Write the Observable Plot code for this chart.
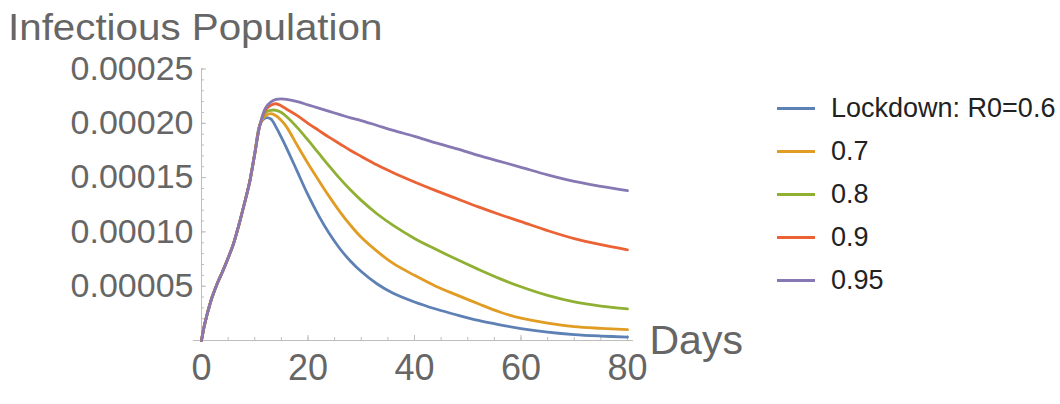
<!DOCTYPE html>
<html>
<head>
<meta charset="utf-8">
<script src="https://cdn.jsdelivr.net/npm/d3@7"></script>
<script src="https://cdn.jsdelivr.net/npm/@observablehq/plot@0.6"></script>
<style>
  body { margin: 0; background: #fff; font-family: "Liberation Sans", Arial, sans-serif; }
  #wrap { width: 1060px; height: 404px; overflow: hidden; }
  #title { height: 50px; box-sizing: border-box; padding: 7.5px 0 0 8px; font-size: 36px; line-height: 40px; color: #666; white-space: nowrap; }
  #title span { display: inline-block; transform: scaleX(1.12); transform-origin: 0 50%; }
  #row { display: flex; align-items: flex-start; }
  #legend { padding-top: 37px; }
  .item { display: flex; align-items: center; height: 43px; font-size: 27px; color: #222; white-space: nowrap; }
  .sw { width: 38px; height: 0; border-top: 3px solid; margin-left: 7px; margin-right: 16px; }
</style>
</head>
<body>
<div id="wrap">
  <div id="title"><span>Infectious Population</span></div>
  <div id="row">
    <div id="chart"></div>
    <div id="legend"></div>
  </div>
</div>
<script>
// ---- data (values in units of 1e-5) ----
const days = [0, 0.5, 1, 1.5, 2, 3, 4, 5, 6, 7, 8, 9, 10, 11,
  12, 13, 14, 15, 16, 18, 20, 22, 24, 26, 28, 30, 33, 36, 40, 44, 48, 52, 56, 60, 65, 70, 75, 80];
const rise = [0, 1.3, 2.3, 3.2, 4.0, 5.3, 6.4, 7.6, 8.9, 10.6, 12.5, 14.5, 17.2, 19.9];
const r06 = rise.concat([20.5, 20.4, 19.65, 18.7, 17.7, 15.55, 13.4, 11.5, 9.85, 8.45, 7.3, 6.35, 5.2, 4.35, 3.55, 2.9, 2.35, 1.85, 1.45, 1.1, 0.78, 0.55, 0.41, 0.31]);
const r07 = rise.concat([20.7, 20.9, 20.7, 20.25, 19.65, 17.95, 16.3, 14.75, 13.25, 11.85, 10.6, 9.5, 8.2, 7.1, 6.0, 5.0, 4.18, 3.38, 2.62, 2.05, 1.6, 1.28, 1.12, 1.0]);
const r08 = rise.concat([21.0, 21.2, 21.2, 21.0, 20.6, 19.6, 18.45, 17.25, 16.05, 14.9, 13.85, 12.9, 11.65, 10.6, 9.4, 8.4, 7.45, 6.55, 5.7, 4.95, 4.15, 3.55, 3.17, 2.92]);
const r09 = rise.concat([21.2, 21.65, 21.8, 21.6, 21.3, 20.7, 20.0, 19.35, 18.7, 18.1, 17.5, 16.95, 16.15, 15.45, 14.6, 13.8, 13.05, 12.3, 11.6, 10.95, 10.12, 9.38, 8.82, 8.35]);
const r095 = rise.concat([21.4, 21.95, 22.2, 22.25, 22.2, 22.0, 21.7, 21.4, 21.1, 20.8, 20.5, 20.25, 19.8, 19.35, 18.8, 18.2, 17.65, 17.05, 16.5, 15.95, 15.25, 14.65, 14.2, 13.8]);
const seriesNames = ["Lockdown: R0=0.6", "0.7", "0.8", "0.9", "0.95"];
const seriesValues = [r06, r07, r08, r09, r095];
const colors = ["#5E81B5", "#E19C24", "#8FB032", "#EB6235", "#8778B3"];
const xTicks = [0, 20, 40, 60, 80];
const yTicks = [0.00005, 0.0001, 0.00015, 0.0002, 0.00025];
const unit = 1e-5;

const table = [];
seriesNames.forEach((name, i) => {
  days.forEach((d, j) => table.push({ series: name, day: d, value: seriesValues[i][j] * unit }));
});

const axisColor = "#bdbdbd";
const labelColor = "#666";

const chart = Plot.plot({
  width: 770,
  height: 354,
  marginLeft: 201,
  marginRight: 143,
  marginTop: 18.5,
  marginBottom: 64,
  style: { fontFamily: "'Liberation Sans', Arial, sans-serif", fontSize: "34px", background: "#fff", overflow: "visible" },
  x: { domain: [0, 80] },
  y: { domain: [0, 0.00025] },
  color: { domain: seriesNames, range: colors },
  marks: [
    Plot.ruleY([0], { stroke: axisColor, insetLeft: -8, insetRight: -6 }),
    Plot.ruleX([0], { stroke: axisColor }),
    Plot.axisY(d3.range(1, 26).map(i => i * unit), { tickSize: 3, dx: 3, fill: "none", stroke: axisColor }),
    Plot.axisY(yTicks, { tickSize: 5, dx: 5, fill: "none", stroke: axisColor }),
    Plot.axisX(d3.range(0, 81, 5), { tickSize: 3, dy: -3, fill: "none", stroke: axisColor }),
    Plot.axisX(xTicks, { tickSize: 5, dy: -5, fill: "none", stroke: axisColor }),
    Plot.axisY(yTicks, { tickSize: 0, tickPadding: 8, tickFormat: d3.format(".5f"), fill: labelColor, label: null }),
    Plot.axisX(xTicks, { tickSize: 0, tickPadding: 14, fontSize: 36, fill: labelColor, label: null }),
    Plot.line(table, { x: "day", y: "value", z: "series", stroke: "series", strokeWidth: 2.8, curve: "catmull-rom" }),
    Plot.text(["Days"], { frameAnchor: "bottom-right", textAnchor: "start", lineAnchor: "bottom", dx: 22, dy: 13, fontSize: 41, fill: labelColor })
  ]
});
document.getElementById("chart").appendChild(chart);

const legend = document.getElementById("legend");
seriesNames.forEach((name, i) => {
  const item = document.createElement("div");
  item.className = "item";
  const sw = document.createElement("span");
  sw.className = "sw";
  sw.style.borderTopColor = colors[i];
  const label = document.createElement("span");
  label.textContent = name;
  item.appendChild(sw);
  item.appendChild(label);
  legend.appendChild(item);
});
</script>
</body>
</html>
